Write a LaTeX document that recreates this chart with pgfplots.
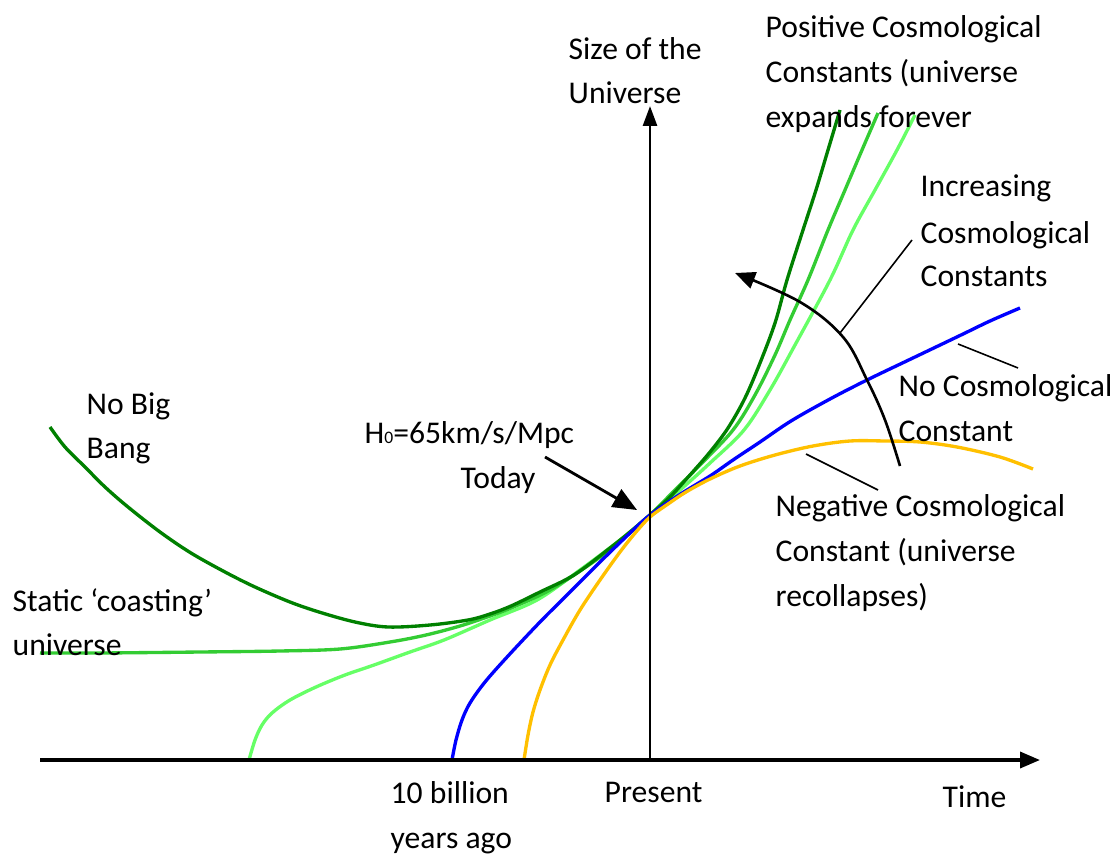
\documentclass[border=0pt]{standalone}
\usepackage{fontspec}
\setmainfont{Carlito}
\usepackage{pgfplots}
\pgfplotsset{compat=1.18}
\usetikzlibrary{arrows.meta}

\definecolor{dkgreen}{RGB}{0,128,0}
\definecolor{mdgreen}{RGB}{51,204,51}
\definecolor{ltgreen}{RGB}{102,255,102}
\definecolor{gold}{RGB}{255,192,0}

\begin{document}
\begin{tikzpicture}
\begin{axis}[
    scale only axis,
    width=11.2cm, height=8.52cm,
    xmin=0, xmax=1120, ymin=0, ymax=852,
    y dir=reverse,
    hide axis,
    clip=false,
    every axis plot/.append style={line width=0.95pt, smooth, tension=0.55, no marks},
]
% frame for the page size
\path (axis cs:0,0) rectangle (axis cs:1120,852);

% light green
\addplot[ltgreen] coordinates {
 (249,760) (255,740) (262,725) (272,713) (290,700) (316,687) (345,675) (374,665)
 (410,652) (444,640) (490,620) (537,600) (580,570) (620,540) (650,515) (680,490)
 (710,463) (744,430) (770,390) (795,345) (830,280) (853,230) (875,190) (897,150) (915,115)
};
% medium green (coasting)
\addplot[mdgreen] coordinates {
 (40,653) (100,653) (200,652) (280,651) (340,649) (390,642) (426,635) (460,626)
 (490,616) (511,608) (550,590) (596,560) (625,537) (650,515) (675,490) (700,465)
 (733,430) (755,395) (775,355) (790,320) (808,280) (828,230) (845,190) (862,150) (878,113)
};
% dark green (no big bang)
\addplot[dkgreen] coordinates {
 (50,427) (65,447) (85,467) (105,487) (128,507) (160,532) (191,553) (225,572)
 (255,587) (290,602) (319,612) (355,622) (388,627) (430,625) (468,620) (490,614)
 (511,606) (540,592) (574,575) (610,548) (630,532) (650,515) (670,497) (690,475)
 (710,452) (728,428) (745,398) (760,363) (775,323) (787,280) (803,230) (816,190)
 (828,150) (840,110)
};
% blue (no cosmological constant)
\addplot[blue] coordinates {
 (452,760) (456,740) (462,720) (470,703) (485,682) (508,656) (540,622) (566,596)
 (600,562) (630,533) (650,515) (679,495) (710,476) (733,460) (760,442) (791,421)
 (830,399) (867,380) (915,357) (961,335) (990,321) (1020,308)
};
% gold (negative cosmological constant)
\addplot[gold] coordinates {
 (524,760) (528,735) (533,712) (540,690) (550,665) (563,640) (580,610) (600,580)
 (620,552) (636,532) (650,517) (668,504) (686,492) (710,479) (740,466) (775,455)
 (813,446) (850,441) (885,441) (920,442) (957,447) (1000,457) (1033,469)
};

% axes
\draw[line width=1pt, -{Triangle[length=0.2cm,width=0.16cm]}] (axis cs:40,760) -- (axis cs:1040,760);
\draw[line width=0.8pt, -{Triangle[length=0.2cm,width=0.14cm]}] (axis cs:650,760) -- (axis cs:650,106);

% annotation arrows and pointer lines
\draw[line width=0.8pt, -{Triangle[length=0.24cm,width=0.2cm]}] (axis cs:545,457) -- (axis cs:637,510);
\draw[line width=0.75pt, -{Triangle[length=0.2cm,width=0.17cm]}] plot[smooth, tension=0.6] coordinates {
 (axis cs:900,466) (axis cs:885,420) (axis cs:867,380) (axis cs:843,337) (axis cs:800,302) (axis cs:735,273)};
\draw[line width=0.45pt] (axis cs:840,333) -- (axis cs:912,240);
\draw[line width=0.45pt] (axis cs:958,344) -- (axis cs:1018,368);
\draw[line width=0.45pt] (axis cs:806,454) -- (axis cs:878,490);

% labels
\tikzset{lbl/.style={anchor=base west, inner sep=0pt, font=\fontsize{9pt}{11pt}\selectfont}}
\node[lbl] at (axis cs:568,60) {Size of the};
\node[lbl] at (axis cs:568,104) {Universe};
\node[lbl] at (axis cs:765,38) {Positive Cosmological};
\node[lbl] at (axis cs:765,83) {Constants (universe};
\node[lbl] at (axis cs:765,128) {expands forever};
\node[lbl] at (axis cs:920,197) {Increasing};
\node[lbl] at (axis cs:920,243) {Cosmological};
\node[lbl] at (axis cs:920,287) {Constants};
\node[lbl] at (axis cs:898,396) {No Cosmological};
\node[lbl] at (axis cs:898,441) {Constant};
\node[lbl] at (axis cs:775,516) {Negative Cosmological};
\node[lbl] at (axis cs:775,561) {Constant (universe};
\node[lbl] at (axis cs:775,606) {recollapses)};
\node[lbl] at (axis cs:86,414) {No Big};
\node[lbl] at (axis cs:86,458) {Bang};
\node[lbl] at (axis cs:364,443) {H{\fontsize{5pt}{6pt}\selectfont 0}=65km/s/Mpc};
\node[lbl] at (axis cs:460,488) {Today};
\node[lbl] at (axis cs:12,611) {Static ‘coasting’};
\node[lbl] at (axis cs:12,655) {universe};
\node[lbl] at (axis cs:390,803) {10 billion};
\node[lbl] at (axis cs:390,848) {years ago};
\node[lbl] at (axis cs:604,802) {Present};
\node[lbl] at (axis cs:942,807) {Time};
\end{axis}
\end{tikzpicture}
\end{document}
